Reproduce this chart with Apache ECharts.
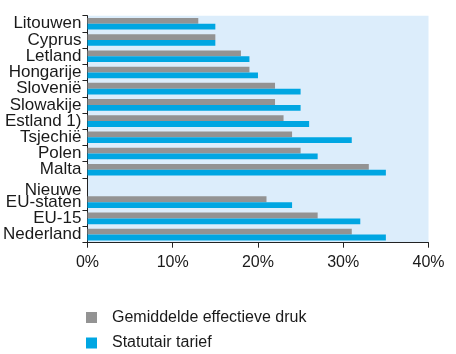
<!DOCTYPE html>
<html>
<head>
<meta charset="utf-8">
<style>
  html, body { margin: 0; padding: 0; background: #fff; }
  #chart { width: 456px; height: 354px; }
</style>
<script src="https://cdn.jsdelivr.net/npm/echarts@6/dist/echarts.min.js"></script>
</head>
<body>
<div id="chart"></div>
<script>
// Landen, van boven naar beneden; "Nieuwe" is de eerste regel van het label "Nieuwe EU-staten"
const categories = ['Litouwen', 'Cyprus', 'Letland', 'Hongarije', 'Sloveni\u00eb', 'Slowakije', 'Estland 1)', 'Tsjechi\u00eb', 'Polen', 'Malta', 'Nieuwe', 'EU-staten', 'EU-15', 'Nederland'];
// Gemiddelde effectieve druk (%)
const effectieveDruk = [13, 15, 18, 19, 22, 22, 23, 24, 25, 33, null, 21, 27, 31];
// Statutair tarief (%)
const statutairTarief = [15, 15, 19, 20, 25, 25, 26, 31, 27, 35, null, 24, 32, 35];
// Waarden langs de x-as
const xTicks = [0, 10, 20, 30, 40];

const seriesNames = ['Gemiddelde effectieve druk', 'Statutair tarief'];
const FONT = '"Liberation Sans", Arial, sans-serif';

// Eén legenda per reeks, onder elkaar
function legendFor(name, top) {
  return {
    left: 86, top: top, padding: 0,
    itemWidth: 11, itemHeight: 11,
    icon: 'rect',
    textStyle: { color: '#1a1a1a', fontFamily: FONT, fontSize: 16, padding: [0, 0, 0, 10] },
    data: [name]
  };
}

const chart = echarts.init(document.getElementById('chart'), null, { renderer: 'canvas' });
chart.setOption({
  animation: false,
  grid: {
    left: 86.5, right: 27.5, top: 15.7, bottom: 111.3,
    show: true, backgroundColor: '#dcedfb', borderWidth: 0
  },
  xAxis: {
    type: 'value',
    min: xTicks[0], max: xTicks[xTicks.length - 1], interval: 10,
    axisLine: { show: true, lineStyle: { color: '#222', width: 1 } },
    axisTick: { show: true, length: 5, lineStyle: { color: '#222' } },
    splitLine: { show: false },
    axisLabel: {
      formatter: v => v + '%',
      color: '#1a1a1a', fontFamily: FONT, fontSize: 16, margin: 12
    }
  },
  yAxis: {
    type: 'category',
    inverse: true,
    data: categories,
    axisLine: { show: true, lineStyle: { color: '#222', width: 1 } },
    axisTick: {
      show: true, length: 5, lineStyle: { color: '#222' },
      interval: (idx) => categories[idx] !== 'EU-staten'
    },
    axisLabel: {
      color: '#1a1a1a', fontFamily: FONT, fontSize: 17, margin: 6,
      interval: 0,
      formatter: v => v === 'Nieuwe' ? '{low|' + v + '}' : v,
      rich: { low: { color: '#1a1a1a', fontFamily: FONT, fontSize: 17, padding: [8, 0, 0, 0] } }
    }
  },
  legend: [
    legendFor(seriesNames[0], 309.5),
    legendFor(seriesNames[1], 335)
  ],
  series: [
    {
      name: seriesNames[0], type: 'bar', data: effectieveDruk,
      barWidth: 5.8, barGap: '0%',
      itemStyle: { color: '#939393' }
    },
    {
      name: seriesNames[1], type: 'bar', data: statutairTarief,
      barWidth: 5.8, barGap: '0%',
      itemStyle: { color: '#00a6e2' }
    }
  ]
});
</script>
</body>
</html>
